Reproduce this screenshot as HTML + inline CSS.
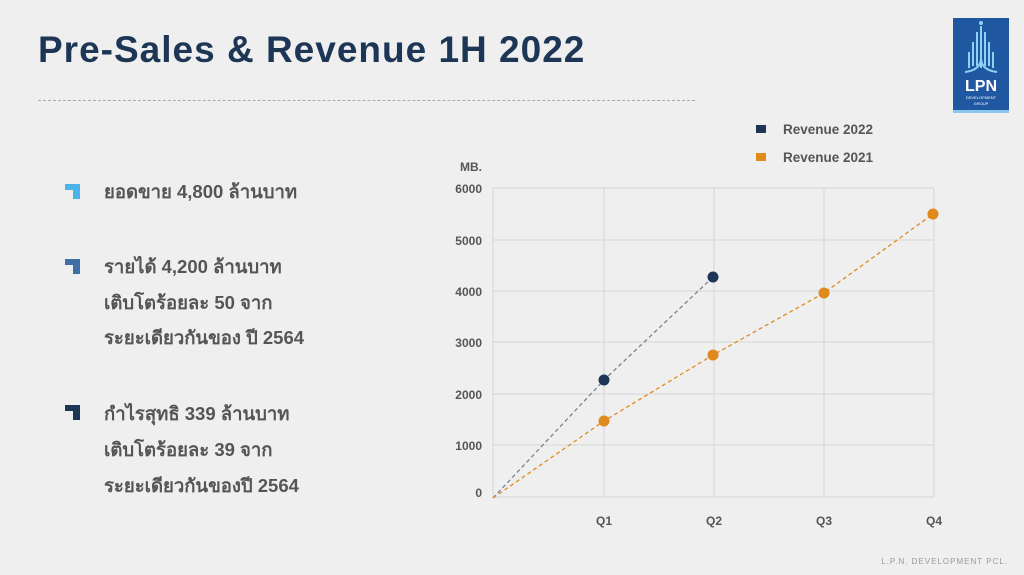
<!DOCTYPE html>
<html><head><meta charset="utf-8"><style>
body{margin:0;width:1024px;height:575px;background:#efefef;font-family:"Liberation Sans","Noto Sans CJK SC",sans-serif;position:relative;overflow:hidden}
.t{position:absolute;white-space:nowrap}
.b{position:absolute;width:15px;height:15px}
.txt{color:#555;font-size:18.5px;font-weight:bold;font-family:"Liberation Sans","Noto Sans CJK SC","WenQuanYi Zen Hei",sans-serif}
</style></head><body>
<div class="t" style="left:38px;top:29px;font-size:37px;font-weight:bold;color:#1e3656;letter-spacing:1px">Pre-Sales &amp; Revenue 1H 2022</div>
<div style="position:absolute;left:38px;top:100px;width:657px;border-top:1px dashed #aaa"></div>
<div style="position:absolute;left:953px;top:18px;width:56px;height:92px;background:#1f57a0;border-bottom:3px solid #8bc8f0">
<svg width="56" height="92"><g stroke="#8fd0f5" stroke-width="2" fill="none"><line x1="28" y1="8" x2="28" y2="50"/><line x1="24" y1="14" x2="24" y2="48"/><line x1="32" y1="14" x2="32" y2="48"/><line x1="20" y1="24" x2="20" y2="48"/><line x1="36" y1="24" x2="36" y2="48"/><line x1="16" y1="34" x2="16" y2="50"/><line x1="40" y1="34" x2="40" y2="50"/><path d="M12 54 Q28 52 28 40 Q28 52 44 54"/></g><circle cx="28" cy="5" r="2" fill="#8fd0f5"/>
<text x="28" y="73" fill="#fff" font-size="16" font-weight="bold" text-anchor="middle" font-family="Liberation Sans">LPN</text>
<text x="28" y="81" fill="#fff" font-size="4" text-anchor="middle" font-family="Liberation Sans">DEVELOPMENT</text>
<text x="28" y="87" fill="#fff" font-size="4" text-anchor="middle" font-family="Liberation Sans">GROUP</text></svg></div>

<svg class="b" style="left:65px;top:184px" viewBox="0 0 15 15"><path d="M0 0H15V15H8V6H0Z" fill="#4ab3e8"/></svg>
<svg class="b" style="left:65px;top:259px" viewBox="0 0 15 15"><path d="M0 0H15V15H8V6H0Z" fill="#3f6fa5"/></svg>
<svg class="b" style="left:65px;top:405px" viewBox="0 0 15 15"><path d="M0 0H15V15H8V6H0Z" fill="#1e3656"/></svg>
<div class="t txt" style="left:104px;top:178px">ยอดขาย 4,800 ล้านบาท</div>
<div class="t txt" style="left:104px;top:253px">รายได้ 4,200 ล้านบาท</div>
<div class="t txt" style="left:104px;top:289px">เติบโตร้อยละ 50 จาก</div>
<div class="t txt" style="left:104px;top:324px">ระยะเดียวกันของ ปี 2564</div>
<div class="t txt" style="left:104px;top:400px">กำไรสุทธิ 339 ล้านบาท</div>
<div class="t txt" style="left:104px;top:436px">เติบโตร้อยละ 39 จาก</div>
<div class="t txt" style="left:104px;top:472px">ระยะเดียวกันของปี 2564</div>

<svg style="position:absolute;left:0;top:0" width="1024" height="575" font-family="Liberation Sans" font-weight="bold" font-size="12" fill="#555">
<g stroke="#ddd" stroke-width="1.5">
<line x1="493" y1="188" x2="934" y2="188"/><line x1="493" y1="240" x2="934" y2="240"/><line x1="493" y1="291" x2="934" y2="291"/><line x1="493" y1="342" x2="934" y2="342"/><line x1="493" y1="394" x2="934" y2="394"/><line x1="493" y1="445" x2="934" y2="445"/><line x1="493" y1="497" x2="934" y2="497"/>
<line x1="493" y1="188" x2="493" y2="497"/><line x1="604" y1="188" x2="604" y2="497"/><line x1="714" y1="188" x2="714" y2="497"/><line x1="824" y1="188" x2="824" y2="497"/><line x1="934" y1="188" x2="934" y2="497"/>
</g>
<text x="460" y="171" font-size="12">MB.</text>
<g text-anchor="end"><text x="482" y="193">6000</text><text x="482" y="245">5000</text><text x="482" y="296">4000</text><text x="482" y="347">3000</text><text x="482" y="399">2000</text><text x="482" y="450">1000</text><text x="482" y="497">0</text></g>
<g text-anchor="middle"><text x="604" y="525">Q1</text><text x="714" y="525">Q2</text><text x="824" y="525">Q3</text><text x="934" y="525">Q4</text></g>
<polyline points="493,498 604,380 713,277" fill="none" stroke="#7a8190" stroke-width="1.3" stroke-dasharray="4,3"/>
<polyline points="493,498 604,421 713,355 824,293 933,214" fill="none" stroke="#e08a1e" stroke-width="1.3" stroke-dasharray="4,3"/>
<g fill="#1e3656"><circle cx="604" cy="380" r="5.5"/><circle cx="713" cy="277" r="5.5"/></g>
<g fill="#e08a1e"><circle cx="604" cy="421" r="5.5"/><circle cx="713" cy="355" r="5.5"/><circle cx="824" cy="293" r="5.5"/><circle cx="933" cy="214" r="5.5"/></g>
<rect x="756" y="125" width="10" height="8" fill="#1e3656"/><text x="783" y="134" font-size="13.5">Revenue 2022</text>
<rect x="756" y="153" width="10" height="8" fill="#e08a1e"/><text x="783" y="162" font-size="13.5">Revenue 2021</text>
<text x="1008" y="564" text-anchor="end" font-size="8" font-weight="normal" fill="#999" letter-spacing="1">L.P.N. DEVELOPMENT PCL.</text>
</svg>
</body></html>
